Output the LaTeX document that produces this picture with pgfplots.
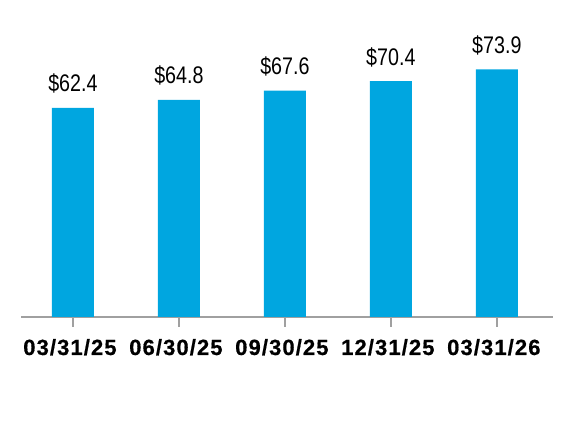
\documentclass[border=0pt]{standalone}
\usepackage{fontspec}
\setmainfont{Liberation Sans}
\newfontfamily\valfont[FakeStretch=0.82]{Liberation Sans}
\newfontfamily\tickfont[LetterSpace=5,FakeBold=0.6]{Liberation Sans Bold}
\usepackage{pgfplots}
\pgfplotsset{compat=1.18}
\definecolor{barblue}{RGB}{0,166,224}
\definecolor{axgray}{RGB}{160,160,160}
\begin{document}
\begin{tikzpicture}
\path[use as bounding box] (0,0) rectangle (572pt,430pt);
\begin{axis}[
  at={(21pt,113pt)}, anchor=south west,
  scale only axis,
  width=532pt, height=301.5pt,
  xmin=-0.49, xmax=4.53,
  ymin=0, ymax=90,
  axis x line*=bottom,
  axis y line=none,
  x axis line style={draw=axgray, line width=1.6pt, -},
  xtick={0,1,2,3,4},
  xticklabels={03/31/25,06/30/25,09/30/25,12/31/25,03/31/26},
  tick align=outside,
  major tick length=10pt,
  tick style={draw=axgray, line width=1.4pt},
  xticklabel style={font=\tickfont\fontsize{22}{26}\selectfont, anchor=base, inner sep=0pt, yshift=-28pt, xshift=-3pt},
  ytick=\empty,
  clip=false,
  /pgf/number format/assume math mode=true,
]
\addplot[ybar, bar width=42pt, fill=barblue, draw=none,
  nodes near coords={\$\pgfmathprintnumber[fixed,precision=1,fixed zerofill,assume math mode=true]{\pgfplotspointmeta}},
  every node near coord/.style={font=\valfont\fontsize{24}{28}\selectfont, anchor=base, inner sep=0pt, yshift=16pt, text=black}
] coordinates {(0,62.4) (1,64.8) (2,67.6) (3,70.4) (4,73.9)};
\end{axis}
\end{tikzpicture}
\end{document}
